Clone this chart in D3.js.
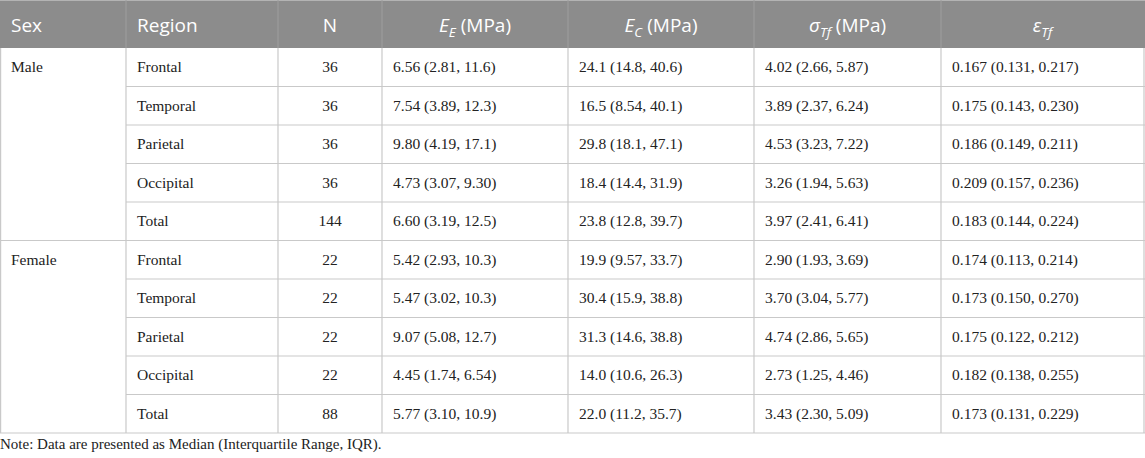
<!DOCTYPE html>
<html>
<head>
<meta charset="utf-8">
<script src="https://cdn.jsdelivr.net/npm/d3@7"></script>
<style>
  body { margin: 0; background: #fff; }
  .hdr { font-family: "Open Sans", sans-serif; font-size: 19px; fill: #fff; }
  .cell { font-family: "Liberation Serif", serif; font-size: 15.5px; fill: #222; }
  .note { font-family: "Liberation Serif", serif; font-size: 15px; fill: #222; }
</style>
</head>
<body>
<div id="table"></div>
<script>
// data
const sexes = ['Male', 'Female'];
const regions = ['Frontal', 'Temporal', 'Parietal', 'Occipital', 'Total'];
const nMale = [36, 36, 36, 36, 144];
const nFemale = [22, 22, 22, 22, 88];
const eE = ['6.56 (2.81, 11.6)', '7.54 (3.89, 12.3)', '9.80 (4.19, 17.1)', '4.73 (3.07, 9.30)', '6.60 (3.19, 12.5)',
  '5.42 (2.93, 10.3)', '5.47 (3.02, 10.3)', '9.07 (5.08, 12.7)', '4.45 (1.74, 6.54)', '5.77 (3.10, 10.9)'];
const eC = ['24.1 (14.8, 40.6)', '16.5 (8.54, 40.1)', '29.8 (18.1, 47.1)', '18.4 (14.4, 31.9)', '23.8 (12.8, 39.7)',
  '19.9 (9.57, 33.7)', '30.4 (15.9, 38.8)', '31.3 (14.6, 38.8)', '14.0 (10.6, 26.3)', '22.0 (11.2, 35.7)'];
const sigmaTf = ['4.02 (2.66, 5.87)', '3.89 (2.37, 6.24)', '4.53 (3.23, 7.22)', '3.26 (1.94, 5.63)', '3.97 (2.41, 6.41)',
  '2.90 (1.93, 3.69)', '3.70 (3.04, 5.77)', '4.74 (2.86, 5.65)', '2.73 (1.25, 4.46)', '3.43 (2.30, 5.09)'];
const epsTf = ['0.167 (0.131, 0.217)', '0.175 (0.143, 0.230)', '0.186 (0.149, 0.211)', '0.209 (0.157, 0.236)', '0.183 (0.144, 0.224)',
  '0.174 (0.113, 0.214)', '0.173 (0.150, 0.270)', '0.175 (0.122, 0.212)', '0.182 (0.138, 0.255)', '0.173 (0.131, 0.229)'];
const noteText = 'Note: Data are presented as Median (Interquartile Range, IQR).';

// header pieces: [text, italic, subscript]
const headers = [
  [['Sex', false, false]],
  [['Region', false, false]],
  [['N', false, false]],
  [['E', true, false], ['E', true, true], [' (MPa)', false, false]],
  [['E', true, false], ['C', true, true], [' (MPa)', false, false]],
  [['σ', true, false], ['Tf', true, true], [' (MPa)', false, false]],
  [['ε', true, false], ['Tf', true, true]]
];
const headAlign = ['start', 'start', 'middle', 'middle', 'middle', 'middle', 'middle'];
const bodyAlign = ['start', 'start', 'middle', 'start', 'start', 'start', 'start'];

const width = 1145;
const height = 458;
const headerH = 48;
const tableBottom = 433;
const colEdges = [0, 126, 278, 382, 568, 754, 941, 1144];
const gridColor = '#c9c9c9';

const rows = [];
sexes.forEach((s, si) => {
  const ns = si === 0 ? nMale : nFemale;
  regions.forEach((r, ri) => {
    const k = si * regions.length + ri;
    rows.push([ri === 0 ? s : '', r, ns[ri], eE[k], eC[k], sigmaTf[k], epsTf[k]]);
  });
});

const svg = d3.select('#table').append('svg')
  .attr('width', width)
  .attr('height', height);

const y = d3.scaleLinear().domain([0, rows.length]).range([headerH, tableBottom]);
const rowH = y(1) - y(0);
const x = (i) => colEdges[i];
const textX = (i, align) => align === 'middle' ? (x(i) + x(i + 1)) / 2 : x(i) + 11;

// header
svg.append('rect')
  .attr('x', 0).attr('y', 0)
  .attr('width', width).attr('height', headerH)
  .attr('fill', '#8c8c8c');
svg.append('line')
  .attr('x1', 0).attr('x2', width).attr('y1', 0.5).attr('y2', 0.5)
  .attr('stroke', '#b3b3b3');

headers.forEach((parts, i) => {
  const t = svg.append('text')
    .attr('class', 'hdr')
    .attr('x', textX(i, headAlign[i]))
    .attr('y', 32)
    .attr('text-anchor', headAlign[i]);
  let down = false;
  parts.forEach(([txt, it, sub]) => {
    const ts = t.append('tspan').text(txt);
    if (it) ts.style('font-style', 'italic');
    if (sub && !down) { ts.attr('dy', 5).style('font-size', '13.5px'); down = true; }
    else if (!sub && down) { ts.attr('dy', -5); down = false; }
  });
});

// grid lines
const grid = svg.append('g').attr('stroke', gridColor).attr('stroke-width', 1.2);
d3.range(1, rows.length + 1).forEach((r) => {
  const full = r % regions.length === 0;
  grid.append('line')
    .attr('x1', full ? 0 : x(1)).attr('x2', width)
    .attr('y1', y(r)).attr('y2', y(r));
});
colEdges.forEach((cx, i) => {
  grid.append('line')
    .attr('x1', i === 0 ? cx + 0.6 : cx).attr('x2', i === 0 ? cx + 0.6 : cx)
    .attr('y1', headerH).attr('y2', tableBottom);
});
colEdges.slice(1, -1).forEach((cx) => {
  svg.append('line')
    .attr('x1', cx).attr('x2', cx).attr('y1', 0).attr('y2', headerH)
    .attr('stroke', '#9e9e9e');
});

// body
rows.forEach((row, r) => {
  row.forEach((v, i) => {
    if (v === '') return;
    svg.append('text')
      .attr('class', 'cell')
      .attr('x', textX(i, bodyAlign[i]))
      .attr('y', y(r) + rowH / 2 + 5)
      .attr('text-anchor', bodyAlign[i])
      .text(v);
  });
});

svg.append('text')
  .attr('class', 'note')
  .attr('x', 0)
  .attr('y', 449)
  .text(noteText);
</script>
</body>
</html>
